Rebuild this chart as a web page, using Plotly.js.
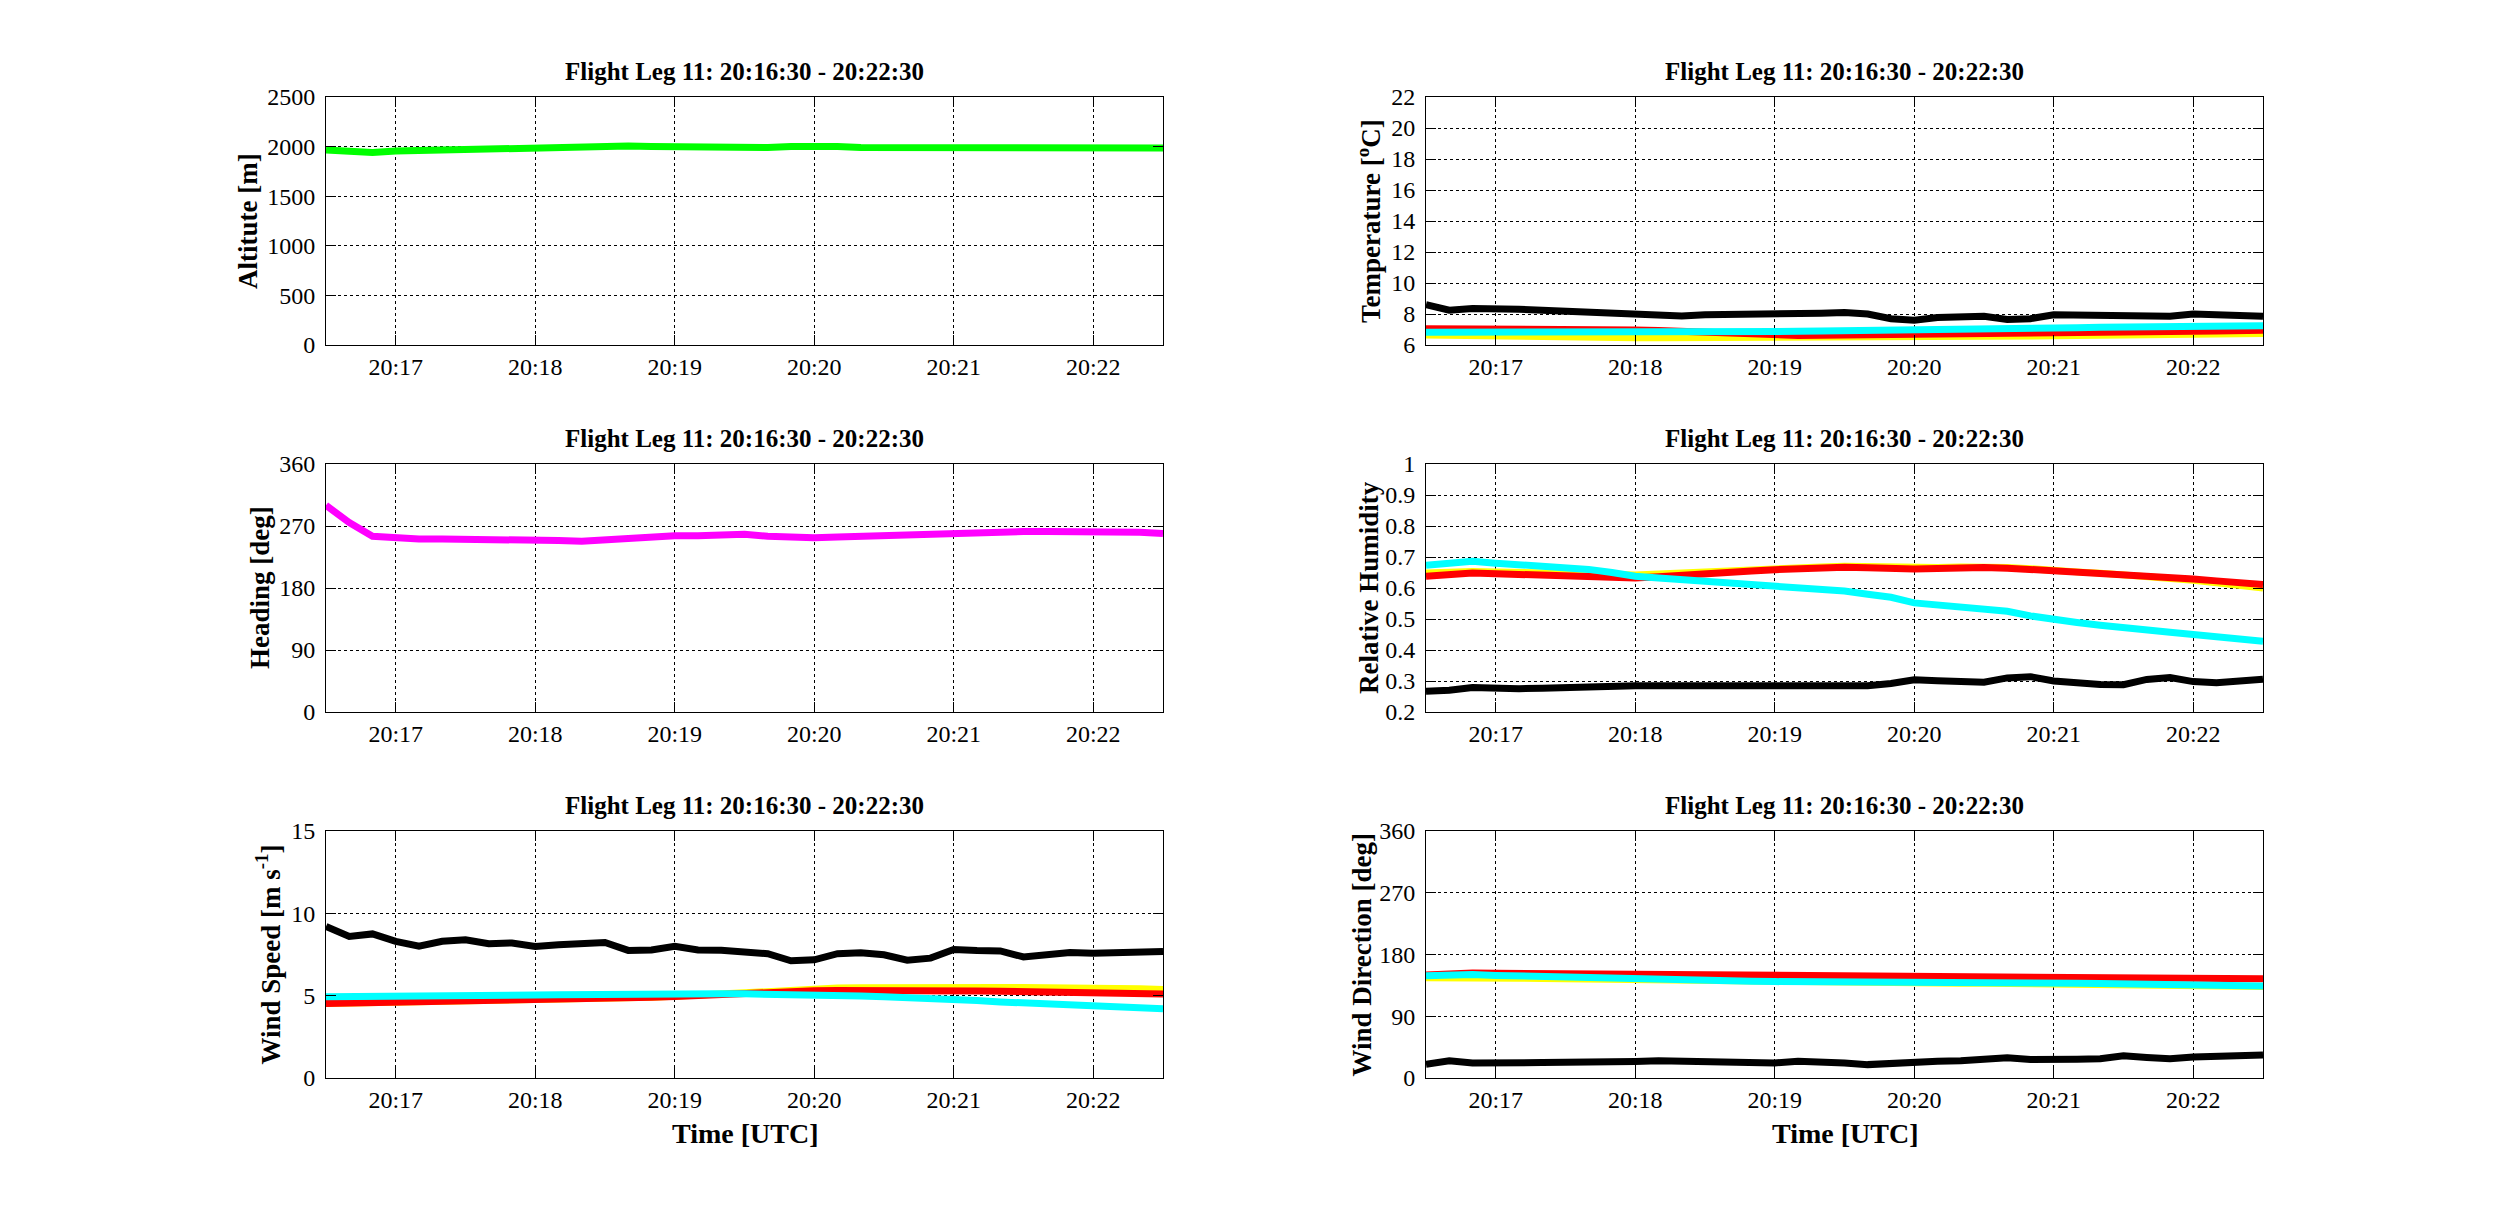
<!DOCTYPE html>
<html>
<head>
<meta charset="utf-8">
<script src="https://cdn.plot.ly/plotly-3.0.1.min.js"></script>
<style>
  body { margin: 0; background: #fff; }
  #chart { width: 2500px; height: 1224px; }
</style>
</head>
<body>
<div id="chart"></div>
<script>
// sample times, every 10 s over the leg
const times = [
    '2000-01-01 20:16:30', '2000-01-01 20:16:40', '2000-01-01 20:16:50',
    '2000-01-01 20:17:00', '2000-01-01 20:17:10', '2000-01-01 20:17:20',
    '2000-01-01 20:17:30', '2000-01-01 20:17:40', '2000-01-01 20:17:50',
    '2000-01-01 20:18:00', '2000-01-01 20:18:10', '2000-01-01 20:18:20',
    '2000-01-01 20:18:30', '2000-01-01 20:18:40', '2000-01-01 20:18:50',
    '2000-01-01 20:19:00', '2000-01-01 20:19:10', '2000-01-01 20:19:20',
    '2000-01-01 20:19:30', '2000-01-01 20:19:40', '2000-01-01 20:19:50',
    '2000-01-01 20:20:00', '2000-01-01 20:20:10', '2000-01-01 20:20:20',
    '2000-01-01 20:20:30', '2000-01-01 20:20:40', '2000-01-01 20:20:50',
    '2000-01-01 20:21:00', '2000-01-01 20:21:10', '2000-01-01 20:21:20',
    '2000-01-01 20:21:30', '2000-01-01 20:21:40', '2000-01-01 20:21:50',
    '2000-01-01 20:22:00', '2000-01-01 20:22:10', '2000-01-01 20:22:20',
    '2000-01-01 20:22:30'
];
const tickTimes = ['2000-01-01 20:17:00', '2000-01-01 20:18:00', '2000-01-01 20:19:00',
    '2000-01-01 20:20:00', '2000-01-01 20:21:00', '2000-01-01 20:22:00'];
const tickText = ['20:17', '20:18', '20:19', '20:20', '20:21', '20:22'];

const altitude = [1965, 1950, 1940, 1955, 1960, 1970, 1972, 1980, 1990, 2000, 2005, 2005, 2003,
    2005, 2000, 1998, 1995, 1992, 1985, 1990, 2000, 2005, 2000, 1990, 1990, 1992, 1990, 1992,
    1990, 1992, 1985, 1975, 1975, 1980, 1978, 1982, 1985];

const heading = [300, 275, 255, 252, 251, 251, 251, 250, 250, 250, 249, 248, 250, 252, 255, 256,
    256, 257, 258, 255, 253, 253, 254, 255, 256, 258, 260, 261, 261, 262, 262, 262, 262, 262,
    262, 261, 259];

const tempBlack = [8.6, 8.25, 8.35, 8.38, 8.3, 8.25, 8.17, 8.12, 8.05, 8.0, 7.95, 7.87, 7.95,
    7.95, 7.95, 8.0, 8.02, 8.05, 8.1, 8.0, 7.7, 7.6, 7.78, 7.8, 7.85, 7.65, 7.7, 7.95, 7.92,
    7.9, 7.85, 7.8, 7.85, 8.0, 7.98, 7.92, 7.85];
const tempCyan = [6.82, 6.82, 6.81, 6.8, 6.8, 6.8, 6.79, 6.78, 6.78, 6.78, 6.78, 6.79, 6.8,
    6.81, 6.83, 6.86, 6.88, 6.9, 6.93, 6.95, 6.97, 7.0, 7.02, 7.04, 7.06, 7.08, 7.1, 7.1, 7.12,
    7.14, 7.16, 7.17, 7.19, 7.2, 7.22, 7.23, 7.25];
const tempRed = [7.05, 7.05, 7.06, 7.05, 7.03, 7.02, 7.0, 6.99, 6.98, 6.97, 6.93, 6.88, 6.8,
    6.72, 6.65, 6.6, 6.62, 6.63, 6.64, 6.65, 6.65, 6.65, 6.67, 6.68, 6.7, 6.71, 6.73, 6.75,
    6.77, 6.79, 6.81, 6.83, 6.85, 6.88, 6.9, 6.93, 6.95];
const tempYellow = [6.65, 6.62, 6.6, 6.58, 6.56, 6.54, 6.52, 6.5, 6.48, 6.47, 6.47, 6.47, 6.48,
    6.49, 6.5, 6.5, 6.5, 6.5, 6.5, 6.5, 6.5, 6.5, 6.52, 6.53, 6.55, 6.57, 6.58, 6.6, 6.62, 6.64,
    6.66, 6.67, 6.68, 6.7, 6.72, 6.74, 6.75];

const rhBlack = [0.267, 0.27, 0.279, 0.276, 0.275, 0.277, 0.28, 0.282, 0.283, 0.285, 0.285,
    0.285, 0.286, 0.287, 0.288, 0.288, 0.287, 0.286, 0.285, 0.285, 0.292, 0.304, 0.301, 0.298,
    0.296, 0.31, 0.314, 0.3, 0.293, 0.289, 0.288, 0.305, 0.311, 0.298, 0.294, 0.3, 0.306];
const rhCyan = [0.673, 0.682, 0.686, 0.68, 0.676, 0.672, 0.668, 0.66, 0.65, 0.638, 0.632, 0.627,
    0.622, 0.616, 0.61, 0.605, 0.6, 0.595, 0.59, 0.58, 0.57, 0.552, 0.545, 0.54, 0.536, 0.525,
    0.51, 0.498, 0.489, 0.48, 0.471, 0.464, 0.457, 0.45, 0.443, 0.436, 0.428];
const rhRed = [0.638, 0.645, 0.648, 0.646, 0.644, 0.642, 0.64, 0.637, 0.633, 0.632, 0.636, 0.642,
    0.646, 0.651, 0.655, 0.659, 0.662, 0.665, 0.667, 0.665, 0.662, 0.661, 0.663, 0.666, 0.666,
    0.664, 0.66, 0.654, 0.651, 0.648, 0.645, 0.641, 0.636, 0.629, 0.623, 0.617, 0.611];
const rhYellow = [0.648, 0.652, 0.653, 0.652, 0.65, 0.648, 0.646, 0.644, 0.642, 0.642, 0.645,
    0.649, 0.652, 0.656, 0.659, 0.662, 0.665, 0.668, 0.67, 0.668, 0.665, 0.664, 0.666, 0.668,
    0.668, 0.666, 0.662, 0.655, 0.652, 0.648, 0.643, 0.638, 0.632, 0.625, 0.617, 0.608, 0.6];

const wsBlack = [9.2, 8.6, 8.75, 8.3, 8.0, 8.3, 8.4, 8.15, 8.2, 7.99, 8.09, 8.15, 8.23, 7.75,
    7.78, 8.0, 7.78, 7.76, 7.7, 7.55, 7.12, 7.18, 7.55, 7.6, 7.48, 7.15, 7.28, 7.8, 7.74, 7.72,
    7.35, 7.5, 7.62, 7.58, 7.6, 7.65, 7.68];
const wsCyan = [4.94, 4.94, 4.95, 4.95, 4.96, 4.97, 4.98, 5.0, 5.02, 5.04, 5.06, 5.08, 5.1, 5.11,
    5.12, 5.13, 5.13, 5.12, 5.11, 5.1, 5.08, 5.05, 5.02, 4.98, 4.94, 4.9, 4.85, 4.78, 4.7, 4.62,
    4.55, 4.48, 4.42, 4.36, 4.3, 4.25, 4.2];
const wsRed = [4.53, 4.55, 4.57, 4.6, 4.62, 4.64, 4.66, 4.68, 4.7, 4.74, 4.77, 4.8, 4.83, 4.86,
    4.9, 4.95, 5.02, 5.1, 5.18, 5.24, 5.28, 5.3, 5.32, 5.33, 5.34, 5.34, 5.33, 5.3, 5.28, 5.27,
    5.26, 5.25, 5.22, 5.19, 5.16, 5.13, 5.1];
const wsYellow = [4.53, 4.55, 4.57, 4.6, 4.62, 4.64, 4.66, 4.68, 4.7, 4.74, 4.77, 4.8, 4.83, 4.86,
    4.9, 4.96, 5.04, 5.13, 5.22, 5.3, 5.36, 5.42, 5.46, 5.48, 5.5, 5.5, 5.5, 5.5, 5.5, 5.5, 5.5,
    5.5, 5.49, 5.48, 5.46, 5.42, 5.38];

const wdBlack = [20, 25, 22, 21.5, 22, 22.5, 23, 22.5, 22, 24, 25, 24.5, 24, 23.5, 22, 22, 24.5,
    24, 22, 19.5, 21.5, 25, 24.5, 25, 27, 29.5, 27, 26, 27.5, 28, 32.5, 30, 28, 30.5, 31.5,
    32.5, 33.5];
const wdCyan = [149, 151, 151, 149.5, 148.5, 148, 147.5, 146.5, 145.5, 144.5, 144, 143.5, 143,
    142, 141, 140.5, 140.5, 140, 139.5, 139, 139, 139, 138.8, 138.5, 138.5, 138.3, 138.2, 138,
    138, 137.8, 137.5, 137.2, 137, 137, 136.5, 135.5, 134];
const wdRed = [150, 152, 153, 152.7, 152.5, 152, 151.5, 151, 150.5, 150, 149.5, 149.2, 149,
    148.6, 148.3, 148, 147.8, 147.6, 147.4, 147.2, 147, 147, 146.8, 146.6, 146.4, 146.2, 146,
    146, 145.8, 145.6, 145.5, 145.3, 145.2, 145, 144.8, 144.6, 144.5];
const wdYellow = [146, 146.5, 146.5, 146, 145.5, 145, 144.5, 144, 143.5, 143, 142.5, 142, 141.5,
    141, 140.5, 140, 140, 139.5, 139, 138.8, 138.6, 138.5, 138.3, 138, 138, 137.8, 137.7, 137.5,
    137.5, 137.3, 137, 136.8, 136.6, 136.5, 136, 135, 133.5];

const panelTitle = 'Flight Leg 11: 20:16:30 - 20:22:30';
const yLabels = ['Altitute [m]', 'Temperature [<sup>o</sup>C]', 'Heading [deg]',
    'Relative Humidity', 'Wind Speed [m s<sup>-1</sup>]', 'Wind Direction [deg]'];
const yRanges = [[0, 2500], [6, 22], [0, 360], [0.2, 1], [0, 15], [0, 360]];
const yDticks = [500, 2, 90, 0.1, 5, 90];

const font = 'Liberation Serif, Times New Roman, serif';
const W = 2500, H = 1224;

// panel boxes in pixels: left, right, top, bottom
const cols = [[326, 1163], [1426, 2263]];
const rows = [[97, 345], [464, 712], [831, 1078]];
const labelX = [[248, 1369], [260, 1369], [268, 1361]];

function line(n, y, color) {
    return {
        type: 'scatter', mode: 'lines', x: times, y: y,
        xaxis: 'x' + (n === 1 ? '' : n), yaxis: 'y' + (n === 1 ? '' : n),
        line: { color: color, width: 7 }, hoverinfo: 'skip', showlegend: false,
    };
}

const data = [
    line(1, altitude, '#00ff00'),
    line(2, tempYellow, '#ffff00'), line(2, tempRed, '#ff0000'),
    line(2, tempCyan, '#00ffff'), line(2, tempBlack, '#000000'),
    line(3, heading, '#ff00ff'),
    line(4, rhYellow, '#ffff00'), line(4, rhRed, '#ff0000'),
    line(4, rhCyan, '#00ffff'), line(4, rhBlack, '#000000'),
    line(5, wsYellow, '#ffff00'), line(5, wsRed, '#ff0000'),
    line(5, wsCyan, '#00ffff'), line(5, wsBlack, '#000000'),
    line(6, wdYellow, '#ffff00'), line(6, wdRed, '#ff0000'),
    line(6, wdCyan, '#00ffff'), line(6, wdBlack, '#000000'),
];

const layout = {
    width: W, height: H,
    margin: { l: 0, r: 0, t: 0, b: 0 },
    paper_bgcolor: '#fff', plot_bgcolor: '#fff',
    font: { family: font, size: 24, color: '#000' },
    showlegend: false,
    annotations: [],
};

const axisCommon = {
    showline: true, mirror: 'ticks', linecolor: '#000', linewidth: 1,
    ticks: 'inside', ticklen: 10, tickcolor: '#000', tickwidth: 1,
    showgrid: true, gridcolor: '#000', griddash: 'dot', gridwidth: 1,
    zeroline: false, fixedrange: true,
    tickfont: { family: font, size: 24, color: '#000' },
};

for (let i = 0; i < 6; i++) {
    const n = i + 1;
    const c = cols[i % 2], r = rows[Math.floor(i / 2)];
    const sfx = n === 1 ? '' : n;
    layout['xaxis' + sfx] = Object.assign({}, axisCommon, {
        type: 'date', anchor: 'y' + sfx,
        domain: [c[0] / W, c[1] / W],
        range: ['2000-01-01 20:16:30', '2000-01-01 20:22:30'],
        tickmode: 'array', tickvals: tickTimes, ticktext: tickText,
        ticklabelstandoff: 0,
    });
    layout['yaxis' + sfx] = Object.assign({}, axisCommon, {
        anchor: 'x' + sfx,
        domain: [1 - r[1] / H, 1 - r[0] / H],
        range: yRanges[i], dtick: yDticks[i], tick0: 0,
        ticklabelstandoff: 5,
    });
    layout.annotations.push({
        text: '<b>' + panelTitle + '</b>', xref: 'paper', yref: 'paper',
        x: (c[0] + c[1]) / 2 / W, y: 1 - r[0] / H, xanchor: 'center', yanchor: 'bottom',
        yshift: 10, showarrow: false, font: { family: font, size: 25, color: '#000' },
    });
    layout.annotations.push({
        text: '<b>' + yLabels[i] + '</b>', xref: 'paper', yref: 'paper', textangle: -90,
        x: labelX[Math.floor(i / 2)][i % 2] / W, y: 1 - (r[0] + r[1]) / 2 / H,
        xanchor: 'center', yanchor: 'middle', showarrow: false,
        font: { family: font, size: 27, color: '#000' },
    });
}

cols.forEach(c => {
    layout.annotations.push({
        text: '<b>Time [UTC]</b>', xref: 'paper', yref: 'paper',
        x: (c[0] + c[1]) / 2 / W, y: 1 - 1133 / H, xanchor: 'center', yanchor: 'middle',
        showarrow: false, font: { family: font, size: 28, color: '#000' },
    });
});

Plotly.newPlot('chart', data, layout, { displayModeBar: false, staticPlot: true });
</script>
</body>
</html>
